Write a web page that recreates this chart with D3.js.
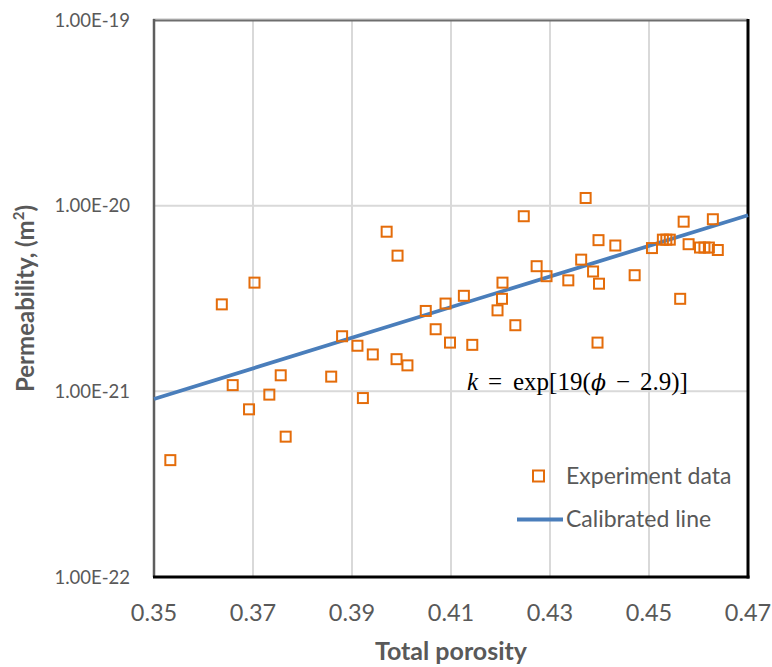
<!DOCTYPE html>
<html>
<head>
<meta charset="utf-8">
<script src="https://cdn.jsdelivr.net/npm/d3@7"></script>
<style>
  html, body { margin: 0; padding: 0; background: #fff; }
  svg { display: block; }
</style>
</head>
<body>
<svg id="chart" width="772" height="667"></svg>
<script>
// Measured samples: total porosity vs permeability (m²)
const porosity = [
  0.3533, 0.3637, 0.3703, 0.3659, 0.3692, 0.3733, 0.3756, 0.3766, 0.3858, 0.3880,
  0.3911, 0.3922, 0.3942, 0.3970, 0.3992, 0.3990, 0.4012, 0.4049, 0.4069, 0.4089,
  0.4098, 0.4126, 0.4143, 0.4194, 0.4204, 0.4203, 0.4230, 0.4247, 0.4273, 0.4293,
  0.4337, 0.4363, 0.4372, 0.4387, 0.4399, 0.4396, 0.4398, 0.4432, 0.4471, 0.4506,
  0.4528, 0.4535, 0.4542, 0.4570, 0.4563, 0.4580, 0.4603, 0.4612, 0.4621, 0.4639,
  0.4629
];
const permeability = [
  4.26e-22, 2.94e-21, 3.85e-21, 1.08e-21, 8.0e-22, 9.6e-22, 1.22e-21, 5.7e-22, 1.20e-21, 1.98e-21,
  1.76e-21, 9.2e-22, 1.58e-21, 7.24e-21, 5.38e-21, 1.49e-21, 1.38e-21, 2.71e-21, 2.16e-21, 2.97e-21,
  1.83e-21, 3.27e-21, 1.78e-21, 2.73e-21, 3.85e-21, 3.15e-21, 2.27e-21, 8.77e-21, 4.72e-21, 4.17e-21,
  3.96e-21, 5.12e-21, 1.10e-20, 4.42e-21, 3.80e-21, 1.83e-21, 6.52e-21, 6.10e-21, 4.22e-21, 5.91e-21,
  6.56e-21, 6.56e-21, 6.56e-21, 8.20e-21, 3.15e-21, 6.20e-21, 5.95e-21, 5.95e-21, 5.95e-21, 5.77e-21,
  8.45e-21
];

// Calibrated relation k = exp[a(φ − b)], evaluated across the porosity range
const fitA = 19;
const fitB = 2.9;
const fitPorosity = [0.35, 0.47];

// Axis ticks and labels
const xTicks = [0.35, 0.37, 0.39, 0.41, 0.43, 0.45, 0.47];
const xTickLabels = ["0.35", "0.37", "0.39", "0.41", "0.43", "0.45", "0.47"];
const yTicks = [1e-22, 1e-21, 1e-20, 1e-19];
const yTickLabels = ["1.00E-22", "1.00E-21", "1.00E-20", "1.00E-19"];

const seriesNames = ["Experiment data", "Calibrated line"];

const orange = "#E46C0A";
const blue = "#4A7EBB";
const textGray = "#595959";
const uiFont = "Lato, 'Open Sans', sans-serif";

const svg = d3.select("#chart");
const plotL = 154, plotR = 748, plotT = 20, plotB = 577;

const x = d3.scaleLinear().domain([0.35, 0.47]).range([plotL, plotR]);
const y = d3.scaleLog().domain([1e-22, 1e-19]).range([plotB, plotT]);

// Gridlines
const grid = svg.append("g");
grid.selectAll("line.vx")
  .data(xTicks.slice(1, -1))
  .join("line")
  .attr("x1", d => x(d)).attr("x2", d => x(d))
  .attr("y1", plotT).attr("y2", plotB)
  .attr("stroke", "#D9D9D9").attr("stroke-width", 2);
grid.selectAll("line.hy")
  .data(yTicks.slice(1, -1))
  .join("line")
  .attr("x1", plotL).attr("x2", plotR)
  .attr("y1", d => y(d)).attr("y2", d => y(d))
  .attr("stroke", "#D9D9D9").attr("stroke-width", 2);

// Plot frame
svg.append("line").attr("x1", plotL - 1).attr("x2", plotR).attr("y1", plotT - 1).attr("y2", plotT - 1)
  .attr("stroke", "#BFBFBF").attr("stroke-width", 1);
svg.append("line").attr("x1", plotL).attr("x2", plotR).attr("y1", plotT + 0.5).attr("y2", plotT + 0.5)
  .attr("stroke", "#6E6E6E").attr("stroke-width", 2);
svg.append("line").attr("x1", plotL).attr("x2", plotL).attr("y1", plotT - 1).attr("y2", plotB)
  .attr("stroke", "#5E5E5E").attr("stroke-width", 2.5);
svg.append("line").attr("x1", plotR).attr("x2", plotR).attr("y1", plotT - 1).attr("y2", plotB + 1.5)
  .attr("stroke", "#000").attr("stroke-width", 3);
svg.append("line").attr("x1", plotL - 1).attr("x2", plotR + 1.5).attr("y1", plotB).attr("y2", plotB)
  .attr("stroke", "#000").attr("stroke-width", 3);

// Calibrated line
const fitLine = d3.line()
  .x(d => x(d))
  .y(d => y(Math.exp(fitA * (d - fitB))));
svg.append("path")
  .datum(fitPorosity)
  .attr("d", fitLine)
  .attr("fill", "none")
  .attr("stroke", blue)
  .attr("stroke-width", 3.8);

// Experiment points
const pts = porosity.map((p, i) => ({ p, k: permeability[i] }));
const markSize = 10;
svg.append("g").selectAll("rect")
  .data(pts)
  .join("rect")
  .attr("x", d => x(d.p) - markSize / 2)
  .attr("y", d => y(d.k) - markSize / 2)
  .attr("width", markSize).attr("height", markSize)
  .attr("fill", "none")
  .attr("stroke", orange)
  .attr("stroke-width", 2);

// Y tick labels
svg.append("g").selectAll("text")
  .data(yTicks)
  .join("text")
  .attr("x", plotL - 24)
  .attr("y", d => y(d))
  .attr("dy", "0.36em")
  .attr("text-anchor", "end")
  .attr("font-family", uiFont)
  .attr("font-size", 18.5)
  .attr("fill", textGray)
  .text((d, i) => yTickLabels[i]);

// X tick labels
svg.append("g").selectAll("text")
  .data(xTicks)
  .join("text")
  .attr("x", d => x(d))
  .attr("y", 621)
  .attr("text-anchor", "middle")
  .attr("font-family", uiFont)
  .attr("font-size", 23.5)
  .attr("fill", textGray)
  .text((d, i) => xTickLabels[i]);

// Axis titles
svg.append("text")
  .attr("x", (plotL + plotR) / 2)
  .attr("y", 660)
  .attr("text-anchor", "middle")
  .attr("font-family", uiFont)
  .attr("font-weight", "bold")
  .attr("font-size", 25)
  .attr("fill", textGray)
  .text("Total porosity");

const yTitle = svg.append("text")
  .attr("transform", `translate(34,${(plotT + plotB) / 2}) rotate(-90)`)
  .attr("text-anchor", "middle")
  .attr("font-family", uiFont)
  .attr("font-weight", "bold")
  .attr("font-size", 24)
  .attr("fill", textGray);
yTitle.append("tspan").text("Permeability, (m");
yTitle.append("tspan").attr("font-size", 15).attr("dy", -10).text("2");
yTitle.append("tspan").attr("dy", 10).text(")");

// Equation annotation, laid out piece by piece with math-style spacing
const eq = svg.append("text")
  .attr("y", 390)
  .attr("font-family", "'Liberation Serif', 'DejaVu Serif', serif")
  .attr("font-size", 25)
  .attr("fill", "#000");
const eqPieces = [
  { t: "k", at: 467, italic: true },
  { t: "=", at: 488 },
  { t: "exp[" + fitA + "(", at: 513 },
  { t: "\u03D5", at: 591, italic: true, phi: true },
  { t: "\u2212", at: 616 },
  { t: fitB + ")]", at: 640 }
];
eq.selectAll("tspan")
  .data(eqPieces)
  .join("tspan")
  .attr("x", d => d.at)
  .attr("font-style", d => d.italic ? "italic" : null)
  .attr("font-family", d => d.phi ? "'DejaVu Serif', serif" : null)
  .attr("font-size", d => d.phi ? 22 : null)
  .text(d => d.t);

// Legend
const legend = svg.append("g");
legend.append("rect")
  .attr("x", 538.5 - 5.5).attr("y", 476 - 5.5)
  .attr("width", 11).attr("height", 11)
  .attr("fill", "none").attr("stroke", orange).attr("stroke-width", 2);
legend.append("line")
  .attr("x1", 517).attr("x2", 563).attr("y1", 519.5).attr("y2", 519.5)
  .attr("stroke", blue).attr("stroke-width", 3.8);
legend.selectAll("text")
  .data(seriesNames)
  .join("text")
  .attr("x", 566)
  .attr("y", (d, i) => i === 0 ? 484 : 527)
  .attr("font-family", uiFont)
  .attr("font-size", 23)
  .attr("fill", textGray)
  .text(d => d);
</script>
</body>
</html>
